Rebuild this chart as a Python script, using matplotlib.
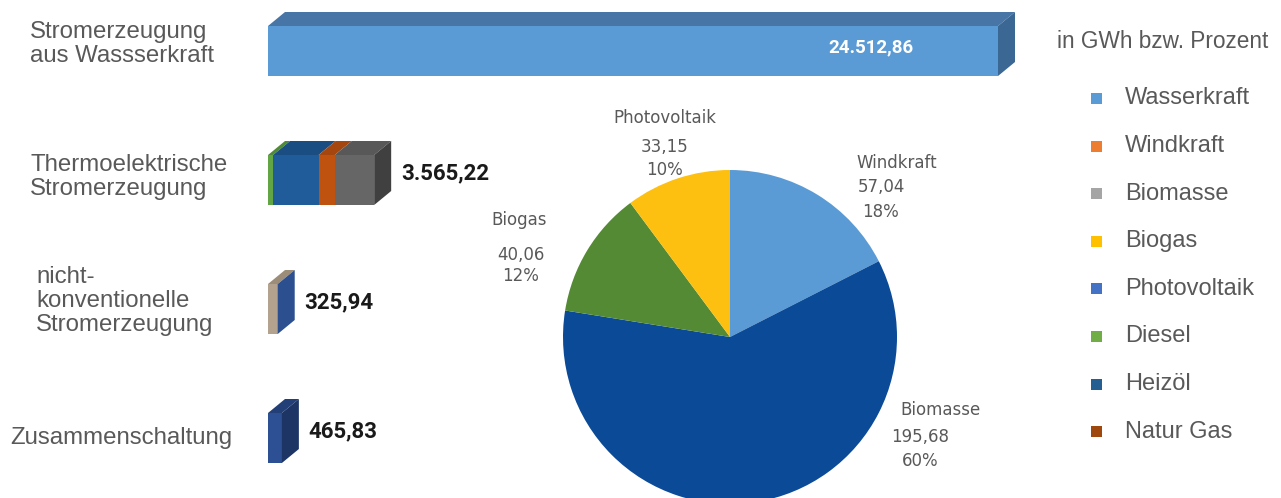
import matplotlib.pyplot as plt
from matplotlib.patches import Polygon, Rectangle

# Stromerzeugung nach Art (GWh)
row_labels = ["Stromerzeugung\naus Wassserkraft", "Thermoelektrische\nStromerzeugung",
              "nicht-\nkonventionelle\nStromerzeugung", "Zusammenschaltung"]
hydro = 24512.86
thermo_parts = ["Diesel", "Heizöl", "Natur Gas", "Biomasse"]
thermo_values = [170.0, 1528.0, 543.0, 1324.22]
non_conv = 325.94
interconnect = 465.83

# nicht-konventionelle Stromerzeugung, Aufteilung
pie_labels = ["Windkraft", "Biomasse", "Biogas", "Photovoltaik"]
pie_values = [57.04, 195.68, 40.06, 33.15]

legend_labels = ["Wasserkraft", "Windkraft", "Biomasse", "Biogas",
                 "Photovoltaik", "Diesel", "Heizöl", "Natur Gas"]
legend_colors = ["#5b9bd5", "#ed7d31", "#a5a5a5", "#ffc000",
                 "#4472c4", "#70ad47", "#255e91", "#9e480e"]


def de(v):
    s = f"{v:,.2f}"
    return s.replace(",", "X").replace(".", ",").replace("X", ".")


W, H = 1281, 498
fig = plt.figure(figsize=(W / 100, H / 100), dpi=100)
fig.patch.set_facecolor("white")

# bar axes: x in GWh, y in row index
px = hydro / 730.0           # GWh per pixel
x0 = 268
ax = fig.add_axes([0, 0, 1, 1])
ax.set_xlim(-x0 * px, (W - x0) * px)
row_px = 129.0
ax.set_ylim((H - 51) / row_px, -51 / row_px)
ax.axis("off")

bar_h = 50 / row_px
dx = 17 * px
dy = 14 / row_px


def bar3d(row, left, width, front, top, side=None):
    ax.barh(row, width, left=left, height=bar_h, color=front, linewidth=0)
    y_top = row - bar_h / 2
    ax.add_patch(Polygon([(left, y_top), (left + dx, y_top - dy),
                          (left + width + dx, y_top - dy), (left + width, y_top)],
                         closed=True, facecolor=top, linewidth=0))
    if side is not None:
        r = left + width
        ax.add_patch(Polygon([(r, y_top), (r + dx, y_top - dy),
                              (r + dx, y_top + bar_h - dy), (r, y_top + bar_h)],
                             closed=True, facecolor=side, linewidth=0))


bar3d(0, 0, hydro, "#5b9bd5", "#4675a6", "#3b6794")

thermo_front = ["#62a544", "#1f5c99", "#c0520f", "#666666"]
thermo_top = ["#4f8a36", "#1a4e83", "#a4460d", "#585858"]
left = 0
for i, v in enumerate(thermo_values):
    last = i == len(thermo_values) - 1
    bar3d(1, left, v, thermo_front[i], thermo_top[i], "#404040" if last else None)
    left += v

bar3d(2, 0, non_conv, "#b3a38e", "#9c8d78", "#2c4f8f")
bar3d(3, 0, interconnect, "#2d4f93", "#223f78", "#1c3565")

totals = [hydro, sum(thermo_values), non_conv, interconnect]
ax.text(hydro - 127 * px, 0 - 0.03, de(hydro), color="white", fontsize=13.5,
        fontweight="bold", family="Roboto", ha="center", va="center")
for row, v in enumerate(totals[1:], start=1):
    ax.text(v + dx + 10 * px, row - 0.05, de(v), color="#1a1a1a", fontsize=16,
            fontweight="bold", family="Roboto", ha="left", va="center")

# row labels on the left
label_pos = [(30, 44), (30, 177), (36, 301), (10, 438)]
for (lx, ly), text in zip(label_pos, row_labels):
    fig.text(lx / W, 1 - ly / H, text, fontsize=17.3, family="Liberation Sans",
             color="#595959", ha="left", va="center", linespacing=1.1)

# pie chart
r = 167
cx, cy = 730, 337
pax = fig.add_axes([(cx - r) / W, (H - cy - r) / H, 2 * r / W, 2 * r / H])
pie_colors = ["#5b9bd5", "#0b4a97", "#548a33", "#fdc010"]
pax.pie(pie_values, colors=pie_colors, startangle=90, counterclock=False,
        wedgeprops=dict(linewidth=0))
pax.set_xlim(-1, 1)
pax.set_ylim(-1, 1)
pax.set_aspect("auto")
pax.axis("off")

total = sum(pie_values)
pie_text_pos = [(897, 163, 881, 187, 212), (940, 410, 920, 437, 461),
                (519, 220, 521, 255, 276), (665, 118, 665, 147, 170)]
for (nx, ny, vx, vy, py), name, v in zip(pie_text_pos, pie_labels, pie_values):
    kw = dict(fontsize=12, family="DejaVu Sans", color="#595959", va="center")
    fig.text(nx / W, 1 - ny / H, name, ha="center", **kw)
    fig.text(vx / W, 1 - vy / H, de(v), ha="center", **kw)
    fig.text(vx / W, 1 - py / H, f"{v / total * 100:.0f}%", ha="center", **kw)

# legend
fig.text(1057 / W, 1 - 42 / H, "in GWh bzw. Prozent", fontsize=16.3,
         family="Liberation Sans", color="#595959", ha="left", va="center")
for i, (name, c) in enumerate(zip(legend_labels, legend_colors)):
    ly = 98.5 + i * 47.6
    fig.patches.append(Rectangle(((1091) / W, 1 - (ly + 5.5) / H), 11 / W, 11 / H,
                                 transform=fig.transFigure, facecolor=c,
                                 linewidth=0))
    fig.text(1125 / W, 1 - ly / H, name, fontsize=17, family="Liberation Sans",
             color="#595959", ha="left", va="center")

fig.savefig("out.png", dpi=100, facecolor="white")
